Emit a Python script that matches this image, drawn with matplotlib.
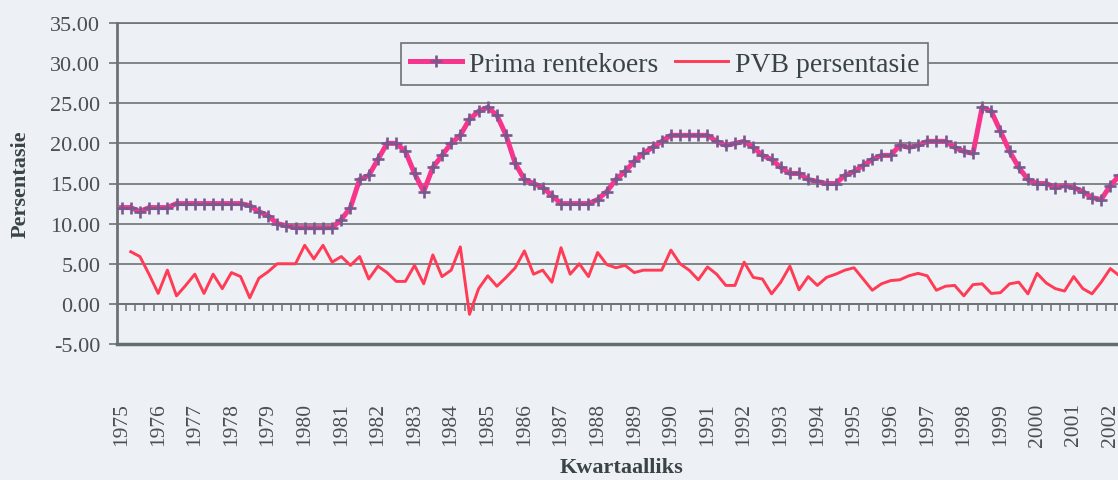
import matplotlib
matplotlib.use('Agg')
import matplotlib.pyplot as plt
import numpy as np
from matplotlib.ticker import FormatStrFormatter

# ---- data (quarterly, 1975Q1 onwards) ----
years = [str(y) for y in range(1975, 2003)]

prime = [12, 12, 11.5, 12, 12, 12, 12.5, 12.5, 12.5, 12.5, 12.5, 12.5, 12.5, 12.5,
         12.25, 11.5, 11, 10, 9.75, 9.5, 9.5, 9.5, 9.5, 9.5, 10.5, 12, 15.5, 16, 18,
         20, 20, 19, 16.25, 14, 17, 18.5, 20, 21, 23, 24, 24.5, 23.5, 21, 17.5, 15.5,
         15, 14.5, 13.5, 12.5, 12.5, 12.5, 12.5, 13, 14, 15.5, 16.5, 17.75, 18.75,
         19.5, 20.25, 21, 21, 21, 21, 21, 20.25, 19.75, 20, 20.25, 19.5, 18.5, 18, 17,
         16.25, 16.25, 15.5, 15.25, 15, 15, 16, 16.5, 17.25, 18, 18.5, 18.5, 19.75,
         19.5, 19.75, 20.25, 20.25, 20.25, 19.5, 19, 18.75, 24.5, 24, 21.5, 19, 17,
         15.5, 15, 15, 14.5, 14.75, 14.5, 14, 13.25, 13, 14.75, 16]

pvb_start = 1  # PVB series starts one quarter later
pvb = [6.5, 5.9, 3.7, 1.3, 4.2, 1.0, 2.3, 3.7, 1.3, 3.7, 1.9, 3.9, 3.4, 0.75, 3.2,
       4.0, 5.0, 5.0, 5.0, 7.3, 5.6, 7.3, 5.2, 5.9, 4.8, 5.9, 3.1, 4.7, 3.9, 2.8, 2.8,
       4.8, 2.5, 6.1, 3.4, 4.2, 7.1, -1.3, 1.9, 3.5, 2.2, 3.3, 4.5, 6.6, 3.7, 4.2, 2.7,
       7.0, 3.7, 5.0, 3.4, 6.4, 4.9, 4.5, 4.8, 3.9, 4.2, 4.2, 4.2, 6.7, 5.0, 4.2, 3.0,
       4.6, 3.7, 2.3, 2.3, 5.2, 3.3, 3.1, 1.25, 2.7, 4.7, 1.75, 3.4, 2.3, 3.3, 3.7, 4.2,
       4.5, 3.1, 1.7, 2.5, 2.9, 3.0, 3.5, 3.8, 3.5, 1.7, 2.2, 2.3, 1.0, 2.4, 2.5, 1.3,
       1.4, 2.5, 2.7, 1.25, 3.8, 2.6, 1.9, 1.6, 3.4, 1.9, 1.25, 2.7, 4.4, 3.5]

# ---- styling ----
plt.rcParams['font.family'] = 'serif'
plt.rcParams['font.serif'] = ['Liberation Serif', 'DejaVu Serif']

BG = '#edf0f5'
GRID = '#6e7275'
TXT = '#3a4445'

W, H = 1118, 481
fig = plt.figure(figsize=(W / 100, H / 100), dpi=100, facecolor=BG)
ax = fig.add_axes([117 / W, 1 - 345 / H, 1 - 117 / W, 321 / H])
ax.set_facecolor(BG)

x_prime = np.arange(len(prime))
x_pvb = np.arange(pvb_start, pvb_start + len(pvb))

ax.plot(x_prime, prime, color='#f8358c', lw=3.6, marker='+', ms=8,
        mec='#77598f', mew=1.9, label='Prima rentekoers', zorder=4)
ax.plot(x_pvb, pvb, color='#ff3b55', lw=2.1, label='PVB persentasie', zorder=3)

ax.set_xlim(-0.5, 108.84)
ax.set_ylim(-5, 35)
ax.set_yticks(np.arange(-5, 36, 5))
ax.yaxis.set_major_formatter(FormatStrFormatter('%.2f'))
ax.yaxis.grid(True, color=GRID, lw=1.2)
ax.set_axisbelow(True)

ax.spines['right'].set_visible(False)
ax.spines['top'].set_color(GRID)
ax.spines['top'].set_linewidth(1.2)
ax.spines['left'].set_color(GRID)
ax.spines['left'].set_linewidth(2)
ax.spines['bottom'].set_color('#5f6e6e')
ax.spines['bottom'].set_linewidth(2.5)

ax.tick_params(axis='y', length=6, width=1.2, color=GRID, pad=6,
               labelsize=16, labelcolor='#4a4f52')

year_pos = np.arange(0, 4 * len(years), 4)
ax.set_xticks(year_pos)
ax.set_xticklabels(years, rotation=90)
ax.tick_params(axis='x', length=0, pad=42, labelsize=15.5, labelcolor='#4a4f52')

# category axis crossing at zero, with quarter tick marks
sec = ax.secondary_xaxis(0.125)
sec.set_xticks(np.arange(len(prime) - 1) + 0.5)
sec.tick_params(axis='x', length=5, width=1.1, color=GRID, direction='out',
                labelbottom=False)
sec.spines['bottom'].set_color(GRID)
sec.spines['bottom'].set_linewidth(1.4)

ax.set_ylabel('Persentasie', fontsize=16, fontweight='bold', color=TXT,
              va='center')
ax.yaxis.set_label_coords(-0.0959, 0.5)
ax.set_xlabel('Kwartaalliks', fontsize=16, fontweight='bold', color=TXT,
              va='center')
ax.xaxis.set_label_coords(0.504, -0.382)

leg = ax.legend(loc='center', bbox_to_anchor=(0.547, 0.871), ncol=2, fontsize=20,
                frameon=True, fancybox=False, edgecolor=GRID, facecolor=BG,
                framealpha=1, handlelength=1.9, handletextpad=0.25,
                columnspacing=0.6, borderpad=0.3, numpoints=1, labelcolor=TXT)
leg.get_frame().set_linewidth(1.2)

fig.savefig('out.png', dpi=100, facecolor=BG)
